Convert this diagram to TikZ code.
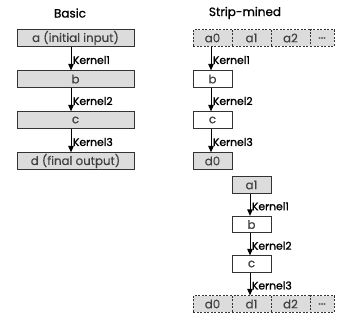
\documentclass[tikz,border=0pt]{standalone}
\usepackage{fontspec}
\setmainfont{Poppins}
\newfontfamily\labelfont[FakeBold=1.2]{Poppins}
\newfontfamily\titlefont[FakeBold=0.8]{Poppins}
\newfontfamily\boxfont[FakeBold=0.4]{Poppins}
\usetikzlibrary{arrows.meta}
\definecolor{boxfill}{HTML}{DCDCDC}
\definecolor{boxtext}{HTML}{404040}
\tikzset{
  box/.style={draw=black!80, line width=0.7pt, inner sep=0pt, minimum height=16.5pt,
    text=boxtext, font=\boxfont\fontsize{11.8}{12}\selectfont},
  graybox/.style={box, fill=boxfill},
  whitebox/.style={box, fill=white},
  cell/.style={graybox, dashed, dash pattern=on 2pt off 1.5pt},
  flow/.style={draw=black, line width=0.9pt, -{Triangle[width=5.5pt,length=6.5pt]}},
  klabel/.style={font=\labelfont\fontsize{10.8}{11}\selectfont, text=black, anchor=west, inner sep=0pt},
  title/.style={font=\titlefont\fontsize{12}{12}\selectfont, text=black}
}
\begin{document}
\begin{tikzpicture}[x=1pt,y=-1pt]
\useasboundingbox (0,0) rectangle (343,320);
% titles
\node[title] (tbasic) at (70,13) {Basic};
\node[title] (tstrip) at (245,13) {Strip-mined};
% basic column
\node[graybox, minimum width=117pt] (ba) at (75.5,38) {a (initial input)};
\node[graybox, minimum width=117pt] (bb) at (75.5,79) {b};
\node[graybox, minimum width=117pt] (bc) at (75.5,120) {c};
\node[graybox, minimum width=117pt] (bd) at (75.5,161) {d (final output)};
\draw[flow] ([xshift=-4.5pt]ba.south) -- ([xshift=-4.5pt]bb.north) node[klabel, midway, xshift=1.5pt, yshift=-1.5pt] (bk1) {Kernel1};
\draw[flow] ([xshift=-4.5pt]bb.south) -- ([xshift=-4.5pt]bc.north) node[klabel, midway, xshift=1.5pt, yshift=-1.5pt] (bk2) {Kernel2};
\draw[flow] ([xshift=-4.5pt]bc.south) -- ([xshift=-4.5pt]bd.north) node[klabel, midway, xshift=1.5pt, yshift=-1.5pt] (bk3) {Kernel3};
% strip-mined: input row
\node[cell, minimum width=39pt] (a0) at (212.5,38) {a0};
\node[cell, minimum width=39pt] (a1) at (251.5,38) {a1};
\node[cell, minimum width=39pt] (a2) at (290.5,38) {a2};
\node[cell, minimum width=24pt] (adots) at (322,38) {...};
% strip 0
\node[whitebox, minimum width=39pt] (s0b) at (212.5,79) {b};
\node[whitebox, minimum width=39pt] (s0c) at (212.5,120) {c};
\node[graybox, minimum width=39pt] (s0d) at (212.5,161) {d0};
\draw[flow] ([xshift=-1.5pt]a0.south) -- ([xshift=-1.5pt]s0b.north) node[klabel, midway, xshift=1.5pt, yshift=-1.5pt] (sk1) {Kernel1};
\draw[flow] ([xshift=-1.5pt]s0b.south) -- ([xshift=-1.5pt]s0c.north) node[klabel, midway, xshift=1.5pt, yshift=-1.5pt] (sk2) {Kernel2};
\draw[flow] ([xshift=-1.5pt]s0c.south) -- ([xshift=-1.5pt]s0d.north) node[klabel, midway, xshift=1.5pt, yshift=-1.5pt] (sk3) {Kernel3};
% strip 1
\node[graybox, minimum width=39pt] (s1a) at (251.5,185) {a1};
\node[whitebox, minimum width=39pt] (s1b) at (251.5,224.5) {b};
\node[whitebox, minimum width=39pt] (s1c) at (251.5,264) {c};
% output row
\node[cell, minimum width=39pt] (d0) at (212.5,304) {d0};
\node[cell, minimum width=39pt] (d1) at (251.5,304) {d1};
\node[cell, minimum width=39pt] (d2) at (290.5,304) {d2};
\node[cell, minimum width=24pt] (ddots) at (322,304) {...};
\draw[flow] ([xshift=-1.5pt]s1a.south) -- ([xshift=-1.5pt]s1b.north) node[klabel, midway, xshift=1.5pt, yshift=-1.5pt] (tk1) {Kernel1};
\draw[flow] ([xshift=-1.5pt]s1b.south) -- ([xshift=-1.5pt]s1c.north) node[klabel, midway, xshift=1.5pt, yshift=-1.5pt] (tk2) {Kernel2};
\draw[flow] ([xshift=-1.5pt]s1c.south) -- ([xshift=-1.5pt]d1.north) node[klabel, midway, xshift=1.5pt, yshift=-1.5pt] (tk3) {Kernel3};
\end{tikzpicture}
\end{document}
